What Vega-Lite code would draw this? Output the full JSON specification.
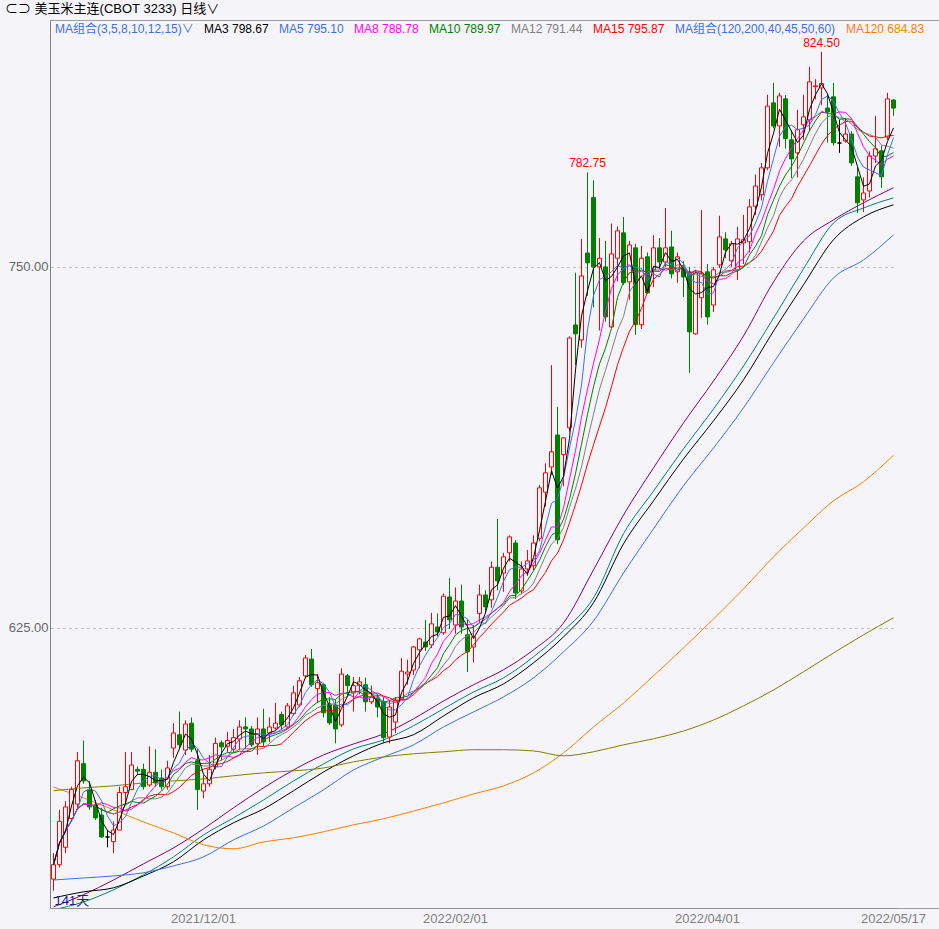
{
"$schema": "https://vega.github.io/schema/vega-lite/v6.json",
"width": 889, "height": 888,
"autosize": "none",
"padding": {"left": 50, "top": 20, "right": 0, "bottom": 21},
"background": "#f5f5f9",
"config": {"view": {"stroke": "#a0a0a0"}, "font": "Liberation Sans, Noto Sans CJK SC, sans-serif"},
"title": {"text": "⊂⊃ 美玉米主连(CBOT 3233)  日线∨", "anchor": "start", "frame": "group", "offset": 4, "dx": -45, "dy": 13, "fontSize": 13, "fontWeight": "normal", "color": "#000000", "baseline": "bottom", "font": "Liberation Sans, Noto Sans CJK SC, sans-serif"},
"datasets": {
"k": [
{"d":"2021/10/26","o":538,"h":547,"l":534,"c":543},
{"d":"2021/10/27","o":543,"h":562,"l":542,"c":558},
{"d":"2021/10/28","o":549,"h":565,"l":547,"c":563},
{"d":"2021/10/29","o":559,"h":570,"l":558,"c":569},
{"d":"2021/11/01","o":564,"h":582,"l":562,"c":579},
{"d":"2021/11/02","o":578,"h":586,"l":571,"c":572},
{"d":"2021/11/03","o":569,"h":572,"l":562,"c":563},
{"d":"2021/11/04","o":563.7,"h":565.4,"l":558.5,"c":559.2},
{"d":"2021/11/05","o":560.2,"h":562.7,"l":552.3,"c":552.6},
{"d":"2021/11/08","o":552.6,"h":555,"l":549,"c":552.6},
{"d":"2021/11/09","o":551,"h":558,"l":547,"c":555},
{"d":"2021/11/10","o":555,"h":570,"l":555,"c":568},
{"d":"2021/11/11","o":568,"h":582,"l":564,"c":570},
{"d":"2021/11/12","o":569,"h":582,"l":569,"c":577.5},
{"d":"2021/11/15","o":576,"h":577,"l":574,"c":575.4},
{"d":"2021/11/16","o":576,"h":578,"l":569,"c":570},
{"d":"2021/11/17","o":570.6,"h":584,"l":570,"c":575},
{"d":"2021/11/18","o":575,"h":583,"l":570,"c":571.3},
{"d":"2021/11/19","o":573,"h":576,"l":569,"c":570},
{"d":"2021/11/22","o":570,"h":579,"l":569,"c":576.5},
{"d":"2021/11/23","o":583.4,"h":592,"l":580,"c":588.6},
{"d":"2021/11/24","o":588,"h":596,"l":583,"c":584.5},
{"d":"2021/11/26","o":582.7,"h":593,"l":581,"c":591.7},
{"d":"2021/11/29","o":592,"h":594,"l":582,"c":583},
{"d":"2021/11/30","o":579,"h":583,"l":562,"c":569},
{"d":"2021/12/01","o":568.5,"h":574,"l":566,"c":571},
{"d":"2021/12/02","o":571,"h":581,"l":570,"c":576},
{"d":"2021/12/03","o":577,"h":587,"l":576,"c":585},
{"d":"2021/12/06","o":585.2,"h":586,"l":579,"c":583.8},
{"d":"2021/12/07","o":584,"h":589,"l":582,"c":586},
{"d":"2021/12/08","o":583,"h":590,"l":582,"c":587},
{"d":"2021/12/09","o":586.5,"h":593,"l":582.7,"c":590.7},
{"d":"2021/12/10","o":590.7,"h":594,"l":583,"c":590},
{"d":"2021/12/13","o":590,"h":591,"l":583.8,"c":584.5},
{"d":"2021/12/14","o":585,"h":594,"l":581,"c":590},
{"d":"2021/12/15","o":590,"h":597,"l":584,"c":585.5},
{"d":"2021/12/16","o":588.6,"h":594,"l":585.5,"c":590.7},
{"d":"2021/12/17","o":590.3,"h":599,"l":589.7,"c":592},
{"d":"2021/12/20","o":595,"h":596,"l":589.7,"c":591.4},
{"d":"2021/12/21","o":590.7,"h":599,"l":590,"c":598},
{"d":"2021/12/22","o":595.3,"h":605,"l":594.6,"c":602.5},
{"d":"2021/12/23","o":598.3,"h":608,"l":597.5,"c":606.7},
{"d":"2021/12/27","o":608.4,"h":615.6,"l":607.5,"c":614.6},
{"d":"2021/12/28","o":614.2,"h":617.7,"l":604.6,"c":605.3},
{"d":"2021/12/29","o":604,"h":609,"l":599,"c":606},
{"d":"2021/12/30","o":605.3,"h":606,"l":594,"c":595.6},
{"d":"2021/12/31","o":598.7,"h":601,"l":591.4,"c":592.1},
{"d":"2022/01/03","o":598.3,"h":600,"l":585,"c":590},
{"d":"2022/01/04","o":591.4,"h":611,"l":590.7,"c":609},
{"d":"2022/01/05","o":608.4,"h":609,"l":601.8,"c":605},
{"d":"2022/01/06","o":602.5,"h":608,"l":596,"c":605},
{"d":"2022/01/07","o":605,"h":608,"l":602,"c":606.3},
{"d":"2022/01/10","o":605.3,"h":607.8,"l":596,"c":599.4},
{"d":"2022/01/11","o":599.4,"h":605,"l":598.6,"c":601.1},
{"d":"2022/01/12","o":600.7,"h":602,"l":594,"c":597.6},
{"d":"2022/01/13","o":599.4,"h":601,"l":585,"c":587},
{"d":"2022/01/14","o":587.2,"h":600,"l":585,"c":597.6},
{"d":"2022/01/18","o":592.4,"h":601,"l":588.6,"c":600},
{"d":"2022/01/19","o":600.4,"h":614.6,"l":600,"c":610},
{"d":"2022/01/20","o":609,"h":614,"l":605.3,"c":609.7},
{"d":"2022/01/21","o":610.4,"h":618.8,"l":608.7,"c":618.4},
{"d":"2022/01/24","o":617.4,"h":621.6,"l":611,"c":621.2},
{"d":"2022/01/25","o":620.1,"h":627.8,"l":617,"c":618.4},
{"d":"2022/01/26","o":619.1,"h":630.2,"l":618,"c":626.4},
{"d":"2022/01/27","o":625.3,"h":630,"l":622,"c":623.6},
{"d":"2022/01/28","o":623.3,"h":637,"l":622.6,"c":636},
{"d":"2022/01/31","o":635.7,"h":642.3,"l":624.6,"c":627.8},
{"d":"2022/02/01","o":626,"h":639,"l":623,"c":634.3},
{"d":"2022/02/02","o":634.3,"h":640,"l":623,"c":625.3},
{"d":"2022/02/03","o":622.6,"h":628,"l":609.7,"c":616.7},
{"d":"2022/02/04","o":618.4,"h":626,"l":613,"c":621.9},
{"d":"2022/02/07","o":630,"h":640,"l":627,"c":636.4},
{"d":"2022/02/08","o":636.4,"h":638,"l":630,"c":632.3},
{"d":"2022/02/09","o":634.7,"h":648,"l":632,"c":646},
{"d":"2022/02/10","o":646,"h":662.7,"l":638,"c":641.3},
{"d":"2022/02/11","o":644,"h":651,"l":637.5,"c":649.6},
{"d":"2022/02/14","o":651,"h":657,"l":648,"c":656.5},
{"d":"2022/02/15","o":654.4,"h":655.4,"l":635,"c":637.1},
{"d":"2022/02/16","o":637.8,"h":648,"l":636.6,"c":645.4},
{"d":"2022/02/17","o":645.4,"h":652,"l":643,"c":648.2},
{"d":"2022/02/18","o":646.5,"h":657,"l":645,"c":654.4},
{"d":"2022/02/22","o":656,"h":674.5,"l":655,"c":673.5},
{"d":"2022/02/23","o":672,"h":682,"l":667,"c":678.7},
{"d":"2022/02/24","o":680.7,"h":716,"l":678,"c":686},
{"d":"2022/02/25","o":691.8,"h":701.5,"l":654,"c":655.5},
{"d":"2022/02/28","o":685,"h":691,"l":674,"c":690.8},
{"d":"2022/03/01","o":694.3,"h":726,"l":693,"c":725.4},
{"d":"2022/03/02","o":729.9,"h":748,"l":716,"c":726.8},
{"d":"2022/03/03","o":724.7,"h":759.7,"l":722,"c":746.9},
{"d":"2022/03/04","o":754.8,"h":782.75,"l":740,"c":751.4},
{"d":"2022/03/07","o":774,"h":780,"l":736,"c":750},
{"d":"2022/03/08","o":750,"h":760,"l":728,"c":753},
{"d":"2022/03/09","o":750,"h":759,"l":731,"c":732.7},
{"d":"2022/03/10","o":729.2,"h":765,"l":729,"c":754.5},
{"d":"2022/03/11","o":753,"h":764,"l":745,"c":762.5},
{"d":"2022/03/14","o":761.8,"h":767.3,"l":743.8,"c":744.5},
{"d":"2022/03/15","o":744.8,"h":759,"l":738.6,"c":757.6},
{"d":"2022/03/16","o":756.6,"h":758,"l":726.5,"c":730},
{"d":"2022/03/17","o":730,"h":757.3,"l":728.5,"c":753},
{"d":"2022/03/18","o":753.5,"h":755,"l":740.6,"c":741},
{"d":"2022/03/21","o":749,"h":761,"l":743,"c":756.6},
{"d":"2022/03/22","o":756.6,"h":760,"l":749,"c":751.7},
{"d":"2022/03/23","o":751.7,"h":770.4,"l":750,"c":756.6},
{"d":"2022/03/24","o":756.9,"h":762.5,"l":746,"c":747.6},
{"d":"2022/03/25","o":748.3,"h":755,"l":744.5,"c":753.5},
{"d":"2022/03/28","o":749.7,"h":752,"l":739.6,"c":746.5},
{"d":"2022/03/29","o":748.3,"h":750,"l":713.3,"c":727.5},
{"d":"2022/03/30","o":726.8,"h":749,"l":726.5,"c":747.9},
{"d":"2022/03/31","o":739.3,"h":769.7,"l":732.3,"c":747.9},
{"d":"2022/04/01","o":748.3,"h":751,"l":730,"c":732.7},
{"d":"2022/04/04","o":736.8,"h":750,"l":734.4,"c":749},
{"d":"2022/04/05","o":750.7,"h":767.7,"l":749.7,"c":760.4},
{"d":"2022/04/06","o":759.7,"h":762,"l":753,"c":755.9},
{"d":"2022/04/07","o":752.1,"h":759,"l":750,"c":758},
{"d":"2022/04/08","o":749,"h":763.9,"l":745.5,"c":759.7},
{"d":"2022/04/11","o":758.3,"h":768,"l":751,"c":759.4},
{"d":"2022/04/12","o":758.7,"h":773.5,"l":755,"c":770.8},
{"d":"2022/04/13","o":771,"h":782,"l":768,"c":778},
{"d":"2022/04/14","o":775,"h":786,"l":773,"c":784.3},
{"d":"2022/04/18","o":784.3,"h":809.6,"l":783.5,"c":805.7},
{"d":"2022/04/19","o":806.8,"h":813.7,"l":798,"c":798.8},
{"d":"2022/04/20","o":798.8,"h":810.3,"l":791.6,"c":809.2},
{"d":"2022/04/21","o":808.2,"h":809.5,"l":791,"c":794.4},
{"d":"2022/04/22","o":794,"h":797.5,"l":780.8,"c":787.4},
{"d":"2022/04/25","o":789.5,"h":804.4,"l":781,"c":797.5},
{"d":"2022/04/26","o":799.2,"h":809.6,"l":794,"c":802},
{"d":"2022/04/27","o":800.9,"h":819.3,"l":797,"c":814.1},
{"d":"2022/04/28","o":812.4,"h":815,"l":808,"c":812.7},
{"d":"2022/04/29","o":812,"h":824.5,"l":806,"c":813.5},
{"d":"2022/05/02","o":805,"h":810,"l":793,"c":803.7},
{"d":"2022/05/03","o":808.9,"h":813.7,"l":792,"c":793},
{"d":"2022/05/04","o":792.9,"h":801,"l":789.5,"c":792.9},
{"d":"2022/05/05","o":793.6,"h":801.6,"l":793,"c":796},
{"d":"2022/05/06","o":796,"h":797,"l":785,"c":786},
{"d":"2022/05/09","o":781.2,"h":784.6,"l":768.7,"c":772.2},
{"d":"2022/05/10","o":773.2,"h":781,"l":769,"c":775.6},
{"d":"2022/05/11","o":776.3,"h":790,"l":774,"c":788.4},
{"d":"2022/05/12","o":788.4,"h":802.3,"l":786,"c":790.9},
{"d":"2022/05/13","o":790.2,"h":792,"l":777.4,"c":781.2},
{"d":"2022/05/16","o":795,"h":810.3,"l":794,"c":808.2},
{"d":"2022/05/17","o":807.8,"h":808,"l":802.3,"c":805}
],
"m": [
{"d":"2021/10/26","MA40":528.4,"MA45":527.4,"MA50":531.5,"MA60":537.7,"MA120":569.9,"MA200":568.6},
{"d":"2021/11/02","MA40":532.6,"MA45":530.1,"MA50":533.6,"MA60":538.4,"MA120":566.1,"MA200":569.6},
{"d":"2021/11/09","MA40":537.7,"MA45":534.3,"MA50":535.0,"MA60":539.1,"MA120":562.0,"MA200":570.3},
{"d":"2021/11/16","MA40":543.3,"MA45":539.5,"MA50":539.1,"MA60":540.2,"MA120":557.8,"MA200":571.3},
{"d":"2021/11/23","MA40":548.8,"MA45":545.7,"MA50":544.0,"MA60":542.6,"MA120":554.0,"MA200":572.0},
{"d":"2021/12/01","MA40":555.4,"MA45":553.3,"MA50":551.6,"MA60":545.7,"MA120":549.9,"MA200":572.7},
{"d":"2021/12/08","MA40":562.7,"MA45":559.2,"MA50":557.5,"MA60":551.6,"MA120":548.5,"MA200":573.8},
{"d":"2021/12/15","MA40":569.6,"MA45":565.4,"MA50":562.3,"MA60":556.4,"MA120":550.9,"MA200":574.8},
{"d":"2021/12/22","MA40":575.8,"MA45":572.0,"MA50":568.6,"MA60":562.7,"MA120":552.3,"MA200":575.5},
{"d":"2021/12/30","MA40":581.0,"MA45":577.9,"MA50":575.1,"MA60":568.9,"MA120":554.4,"MA200":576.5},
{"d":"2022/01/06","MA40":584.8,"MA45":583.1,"MA50":580.7,"MA60":575.8,"MA120":556.8,"MA200":578.6},
{"d":"2022/01/13","MA40":588.3,"MA45":586.2,"MA50":585.2,"MA60":580.3,"MA120":558.9,"MA200":580.3},
{"d":"2022/01/21","MA40":593.5,"MA45":591.1,"MA50":588.0,"MA60":584.5,"MA120":561.6,"MA200":581.4},
{"d":"2022/01/28","MA40":599.7,"MA45":597.0,"MA50":594.5,"MA60":590.7,"MA120":564.4,"MA200":582.1},
{"d":"2022/02/04","MA40":605.3,"MA45":602.8,"MA50":600.8,"MA60":595.9,"MA120":567.5,"MA200":582.8},
{"d":"2022/02/11","MA40":610.5,"MA45":607.7,"MA50":605.6,"MA60":601.1,"MA120":570.3,"MA200":582.8},
{"d":"2022/02/18","MA40":617.4,"MA45":615.0,"MA50":612.9,"MA60":607.7,"MA120":574.8,"MA200":582.4},
{"d":"2022/02/28","MA40":626.7,"MA45":624.0,"MA50":621.9,"MA60":616.7,"MA120":581.7,"MA200":580.7},
{"d":"2022/03/07","MA40":645.1,"MA45":635.4,"MA50":633.7,"MA60":627.4,"MA120":590.7,"MA200":582.1},
{"d":"2022/03/14","MA40":664.1,"MA45":657.6,"MA50":654.1,"MA60":644.0,"MA120":599.0,"MA200":584.5},
{"d":"2022/03/21","MA40":680.4,"MA45":672.4,"MA50":669.0,"MA60":659.3,"MA120":608.4,"MA200":586.6},
{"d":"2022/03/28","MA40":696.0,"MA45":687.0,"MA50":683.5,"MA60":674.2,"MA120":618.1,"MA200":589.3},
{"d":"2022/04/04","MA40":710.5,"MA45":700.8,"MA50":696.7,"MA60":687.3,"MA120":628.1,"MA200":593.1},
{"d":"2022/04/11","MA40":726.1,"MA45":715.7,"MA50":710.9,"MA60":701.2,"MA120":638.5,"MA200":598.0},
{"d":"2022/04/19","MA40":744.8,"MA45":732.3,"MA50":727.8,"MA60":716.8,"MA120":649.6,"MA200":603.5},
{"d":"2022/04/26","MA40":759.0,"MA45":749.3,"MA50":743.8,"MA60":732.0,"MA120":659.6,"MA200":609.8},
{"d":"2022/05/03","MA40":766.3,"MA45":765.2,"MA50":759.4,"MA60":746.2,"MA120":669.0,"MA200":616.3},
{"d":"2022/05/10","MA40":772.2,"MA45":770.4,"MA50":767.3,"MA60":752.4,"MA120":675.6,"MA200":622.6},
{"d":"2022/05/17","MA40":777.4,"MA45":773.9,"MA50":771.5,"MA60":761.1,"MA120":684.8,"MA200":628.5}
]
},
"layer": [
{
"data": {"name": "m"},
"transform": [{"fold": ["MA40","MA45","MA50","MA60","MA120","MA200"], "as": ["k","v"]}],
"mark": {"type": "line", "strokeWidth": 1, "clip": true, "interpolate": "monotone"},
"encoding": {
"x": {"field": "d", "type": "ordinal", "bandPosition": 0.5, "scale": {"type": "band", "range": [0.5, 846.5], "paddingInner": 0, "paddingOuter": 0},
"axis": {"values": ["2021/12/01","2022/02/01","2022/04/01","2022/05/17"], "title": null, "labelAngle": 0, "labelColor": "#808080", "labelFontSize": 13, "ticks": false, "labelPadding": 4, "domainColor": "#909090", "grid": false}},
"y": {"field": "v", "type": "quantitative", "scale": {"domain": [528, 835.5], "nice": false, "zero": false},
"axis": {"values": [625, 750], "format": ".2f", "title": null, "grid": true, "gridDash": [3,3], "gridColor": "#c0c0c0", "ticks": false, "labelPadding": 2, "labelColor": "#666666", "labelFontSize": 13, "domainColor": "#808080"}},
"color": {"field": "k", "type": "nominal",
"scale": {"domain": ["MA组合(3,5,8,10,12,15)∨","MA3","MA5","MA8","MA10","MA12","MA15","MA组合(120,200,40,45,50,60)","MA120","MA200","MA40","MA45","MA50","MA60"],
"range": ["#3f6fe6","#000000","#3f6fe6","#ff00ff","#008000","#808080","#ff0000","#3f6fe6","#ff8000","#808000","#800080","#008080","#000000","#3f6fe6"]},
"legend": {"orient": "top-left", "direction": "horizontal", "title": null, "offset": 3, "padding": 0,
"values": ["MA组合(3,5,8,10,12,15)∨","MA3","MA5","MA8","MA10","MA12","MA15","MA组合(120,200,40,45,50,60)","MA120"],
"symbolSize": 0, "symbolOpacity": 0, "symbolStrokeWidth": 0, "labelOffset": -10, "columnPadding": 8, "labelFontSize": 12, "labelLimit": 400,
"labelColor": {"expr": "scale('color', datum.value)"},
"labelExpr": "datum.label == 'MA3' ? 'MA3 798.67' : datum.label == 'MA5' ? 'MA5 795.10' : datum.label == 'MA8' ? 'MA8 788.78' : datum.label == 'MA10' ? 'MA10 789.97' : datum.label == 'MA12' ? 'MA12 791.44' : datum.label == 'MA15' ? 'MA15 795.87' : datum.label == 'MA120' ? 'MA120 684.83' : datum.label"}}
}
},
{
"data": {"name": "k"},
"mark": {"type": "rule", "strokeWidth": 1},
"encoding": {
"x": {"field": "d", "type": "ordinal", "bandPosition": 0.5, "scale": {"type": "band", "range": [0.5, 846.5], "paddingInner": 0, "paddingOuter": 0}},
"y": {"field": "l", "type": "quantitative", "scale": {"domain": [528, 835.5], "nice": false, "zero": false}},
"y2": {"field": "h"},
"color": {"condition": [{"test": "datum.c > datum.o", "value": "#ff0000"}, {"test": "datum.c < datum.o", "value": "#008000"}], "value": "#000000"}
}
},
{
"data": {"name": "k"},
"mark": {"type": "bar", "width": 4, "strokeWidth": 1},
"encoding": {
"x": {"field": "d", "type": "ordinal", "scale": {"type": "band", "range": [0.5, 846.5], "paddingInner": 0, "paddingOuter": 0}},
"y": {"field": "o", "type": "quantitative", "scale": {"domain": [528, 835.5], "nice": false, "zero": false}},
"y2": {"field": "c"},
"fill": {"condition": [{"test": "datum.c > datum.o", "value": "#f5f5f9"}, {"test": "datum.c < datum.o", "value": "#008000"}], "value": "#000000"},
"stroke": {"condition": [{"test": "datum.c > datum.o", "value": "#ff0000"}, {"test": "datum.c < datum.o", "value": "#008000"}], "value": "#000000"}
}
},
{
"data": {"name": "k"},
"transform": [
{"window": [{"op": "mean", "field": "c", "as": "MA3"}], "frame": [-2, 0], "sort": [{"field": "d"}]},
{"window": [{"op": "mean", "field": "c", "as": "MA5"}], "frame": [-4, 0], "sort": [{"field": "d"}]},
{"window": [{"op": "mean", "field": "c", "as": "MA8"}], "frame": [-7, 0], "sort": [{"field": "d"}]},
{"window": [{"op": "mean", "field": "c", "as": "MA10"}], "frame": [-9, 0], "sort": [{"field": "d"}]},
{"window": [{"op": "mean", "field": "c", "as": "MA12"}], "frame": [-11, 0], "sort": [{"field": "d"}]},
{"window": [{"op": "mean", "field": "c", "as": "MA15"}], "frame": [-14, 0], "sort": [{"field": "d"}]},
{"fold": ["MA15","MA12","MA10","MA8","MA5","MA3"], "as": ["k","v"]}
],
"mark": {"type": "line", "strokeWidth": 1, "clip": true},
"encoding": {
"x": {"field": "d", "type": "ordinal", "bandPosition": 0.5, "scale": {"type": "band", "range": [0.5, 846.5], "paddingInner": 0, "paddingOuter": 0}},
"y": {"field": "v", "type": "quantitative", "scale": {"domain": [528, 835.5], "nice": false, "zero": false}},
"color": {"field": "k", "type": "nominal",
"scale": {"domain": ["MA组合(3,5,8,10,12,15)∨","MA3","MA5","MA8","MA10","MA12","MA15","MA组合(120,200,40,45,50,60)","MA120","MA200","MA40","MA45","MA50","MA60"],
"range": ["#3f6fe6","#000000","#3f6fe6","#ff00ff","#008000","#808080","#ff0000","#3f6fe6","#ff8000","#808000","#800080","#008080","#000000","#3f6fe6"]},
"legend": {"orient": "top-left", "direction": "horizontal", "title": null, "offset": 3, "padding": 0,
"values": ["MA组合(3,5,8,10,12,15)∨","MA3","MA5","MA8","MA10","MA12","MA15","MA组合(120,200,40,45,50,60)","MA120"],
"symbolSize": 0, "symbolOpacity": 0, "symbolStrokeWidth": 0, "labelOffset": -10, "columnPadding": 8, "labelFontSize": 12, "labelLimit": 400,
"labelColor": {"expr": "scale('color', datum.value)"},
"labelExpr": "datum.label == 'MA3' ? 'MA3 798.67' : datum.label == 'MA5' ? 'MA5 795.10' : datum.label == 'MA8' ? 'MA8 788.78' : datum.label == 'MA10' ? 'MA10 789.97' : datum.label == 'MA12' ? 'MA12 791.44' : datum.label == 'MA15' ? 'MA15 795.87' : datum.label == 'MA120' ? 'MA120 684.83' : datum.label"}}
}
},
{
"data": {"name": "k"},
"transform": [{"filter": "datum.h == 824.5 || datum.h == 782.75"}],
"mark": {"type": "text", "color": "#ff0000", "fontSize": 12, "baseline": "bottom", "dy": -2},
"encoding": {
"x": {"field": "d", "type": "ordinal", "bandPosition": 0.5, "scale": {"type": "band", "range": [0.5, 846.5], "paddingInner": 0, "paddingOuter": 0}},
"y": {"field": "h", "type": "quantitative", "scale": {"domain": [528, 835.5], "nice": false, "zero": false}},
"text": {"field": "h", "type": "quantitative", "format": ".2f"}
}
},
{
"data": {"values": [{}]},
"mark": {"type": "text", "color": "#1c1c8c", "fontSize": 13, "align": "left", "baseline": "bottom", "dx": 1, "dy": 0},
"encoding": {
"x": {"datum": "2021/10/26", "type": "ordinal", "scale": {"type": "band", "range": [0.5, 846.5], "paddingInner": 0, "paddingOuter": 0}},
"y": {"datum": 528, "type": "quantitative", "scale": {"domain": [528, 835.5], "nice": false, "zero": false}},
"text": {"value": "141天"}
}
}
]
}
